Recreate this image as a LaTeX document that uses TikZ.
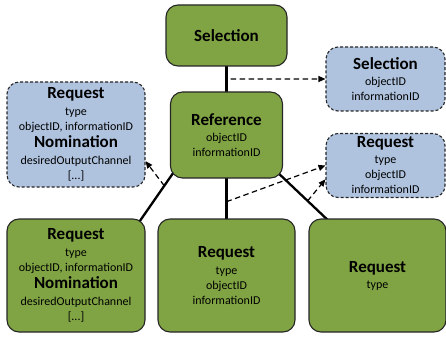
\documentclass[tikz,border=0pt]{standalone}
\usepackage{fontspec}
\setmainfont{Carlito}
\usetikzlibrary{calc,arrows.meta,backgrounds}

\definecolor{boxgreen}{RGB}{128,164,67}
\definecolor{boxblue}{RGB}{175,195,223}
\newcommand{\tit}[1]{{\fontsize{17}{17}\selectfont\bfseries #1}}

\tikzset{
  obj/.style={draw=black!85, line width=1.1pt, fill=boxgreen, rounded corners=12pt,
    align=center, inner sep=0pt, font=\fontsize{12}{15}\selectfont},
  info/.style={obj, fill=boxblue, dashed, dash pattern=on 3pt off 2pt},
  link/.style={line width=2.3pt},
  refarrow/.style={line width=1.2pt, dash pattern=on 5.5pt off 3.5pt, -{Triangle[length=7pt,width=6pt]}}
}

\begin{document}
\begin{tikzpicture}[x=1pt,y=-1pt]
\useasboundingbox (0,0) rectangle (446,339);

% Green boxes
\node[obj, minimum width=121pt, minimum height=61pt] (sel) at (226.5,35.5) {\tit{Selection}};
\node[obj, minimum width=112pt, minimum height=86pt] (ref) at (226.5,135) {\tit{Reference}\\[1pt]objectID\\informationID};
\node[obj, minimum width=138pt, minimum height=113pt] (req1) at (76,275.5)
  {\tit{Request}\\[2pt]type\\objectID, informationID\\[2pt]\tit{Nomination}\\[2pt]desiredOutputChannel\\{[...]}};
\node[obj, minimum width=137pt, minimum height=113pt] (req2) at (226.5,275.5) {\tit{Request}\\[2pt]type\\objectID\\informationID};
\node[obj, minimum width=137pt, minimum height=113pt] (req3) at (377.5,275.5) {\tit{Request}\\[1pt]type};

% Blue boxes
\node[info, minimum width=119pt, minimum height=64pt] (selinfo) at (385.5,79) {\tit{Selection}\\[1pt]objectID\\informationID};
\node[info, minimum width=138pt, minimum height=105pt] (nominfo) at (76,134.5)
  {\tit{Request}\\[2pt]type\\objectID, informationID\\[2pt]\tit{Nomination}\\[2pt]desiredOutputChannel\\{[...]}};
\node[info, minimum width=119pt, minimum height=64pt] (reqinfo) at (385.5,165.5) {\tit{Request}\\[1pt]type\\objectID\\informationID};

% Links (behind the boxes)
\begin{scope}[on background layer]
\draw[link] (sel.center) -- (ref.center);
\draw[link] ($(ref.-143)!-8pt!(req1.41)$) -- ($(req1.41)!-8pt!(ref.-143)$);
\draw[link] (ref.center) -- (req2.center);
\draw[link] ($(ref.-37)!-8pt!(req3.132)$) -- ($(req3.132)!-8pt!(ref.-37)$);
\end{scope}

% Points on the links
\coordinate (m0) at ($(sel.south)!0.5!(ref.north)$);
\coordinate (m1) at ($(ref.-143)!0.2!(req1.41)$);
\coordinate (m2) at ($(ref.south)!0.58!(req2.north)$);
\coordinate (m3) at ($(ref.-37)!0.57!(req3.132)$);

% Dashed arrows
\draw[refarrow] ([xshift=4pt]m0) -- (selinfo.west);
\draw[refarrow] (m1) -- (nominfo.-21.7);
\draw[refarrow] (m2) -- (reqinfo.west);
\draw[refarrow] (m3) -- (reqinfo.193.7);
\end{tikzpicture}
\end{document}
